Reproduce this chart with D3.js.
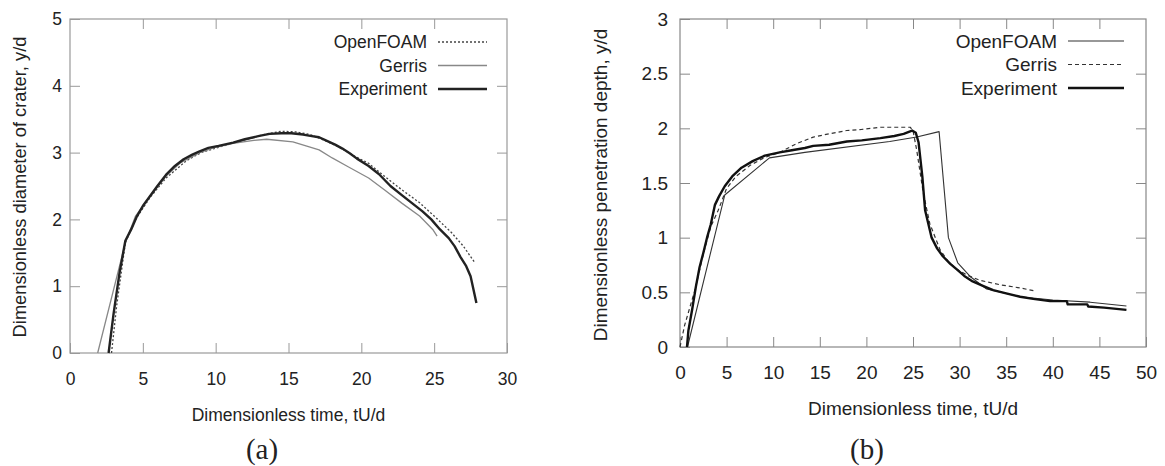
<!DOCTYPE html>
<html>
<head>
<meta charset="utf-8">
<script src="https://cdn.jsdelivr.net/npm/d3@7"></script>
<style>
  body { margin: 0; background: #fff; }
  text { font-family: "Liberation Sans", Arial, sans-serif; fill: #222; }
</style>
</head>
<body>
<div id="container"></div>
<script>
/* DATA : [time, value] */
// (a) crater diameter
const craterOpenFOAM = [[2.85,0],[3.2,0.7],[3.8,1.65],[4.5,2.0],[5.5,2.33],[6.6,2.62],[8,2.88],[9,3.0],[10.2,3.08],[11.5,3.16],[12.5,3.22],[13.5,3.28],[14.5,3.32],[15.5,3.31],[16.5,3.27],[17.5,3.18],[18.5,3.08],[19.5,2.95],[20.5,2.84],[21.5,2.66],[22.8,2.44],[24,2.25],[25.1,2.03],[26.2,1.8],[27,1.6],[27.8,1.35]];
const craterGerris = [[1.9,0],[3.8,1.65],[4.5,2.05],[5.5,2.35],[6.6,2.65],[7.6,2.85],[8.9,3.0],[10,3.08],[11.2,3.14],[12.5,3.18],[13.5,3.2],[15.3,3.16],[16.2,3.1],[17.1,3.04],[18,2.92],[19,2.8],[20.5,2.62],[21.6,2.44],[22.8,2.24],[24,2.05],[24.9,1.85],[25.2,1.75]];
const craterExperiment = [[2.65,0],[3.0,0.6],[3.4,1.2],[3.8,1.68],[4.2,1.85],[4.6,2.05],[5.0,2.2],[5.5,2.35],[6.0,2.5],[6.6,2.67],[7.2,2.8],[7.8,2.9],[8.4,2.97],[8.9,3.02],[9.5,3.07],[10.2,3.1],[11.2,3.15],[12,3.2],[13,3.25],[13.7,3.28],[14.5,3.29],[15.2,3.29],[16,3.27],[16.5,3.25],[17.1,3.23],[17.6,3.18],[18.2,3.12],[18.7,3.06],[19.2,2.99],[19.7,2.91],[20.5,2.8],[21.2,2.68],[22,2.5],[22.8,2.36],[23.5,2.24],[24.2,2.12],[24.8,2.0],[25.4,1.85],[26.0,1.72],[26.4,1.6],[26.8,1.44],[27.2,1.3],[27.5,1.15],[27.9,0.75]];

// (b) penetration depth
const depthOpenFOAM = [[0.8,0],[4.8,1.39],[9.6,1.73],[13.4,1.78],[22.5,1.88],[25.4,1.92],[27.8,1.97],[28.8,1.0],[29.8,0.77],[31.2,0.64],[32.9,0.53],[36.5,0.46],[40,0.43],[44,0.41],[47.9,0.375]];
const depthGerris = [[0,0],[0.5,0.2],[1.6,0.52],[2.5,0.85],[3.3,1.1],[4.1,1.25],[5,1.45],[6,1.56],[7.5,1.66],[9,1.73],[10.7,1.78],[12.5,1.86],[14.3,1.92],[16,1.95],[17.9,1.98],[19.5,1.99],[21.5,2.01],[24.7,2.01],[25,1.98],[25.4,1.8],[26.1,1.41],[26.8,1.13],[27.9,0.89],[28.8,0.78],[29.7,0.71],[31,0.65],[32.2,0.61],[34.3,0.57],[36.5,0.54],[38.2,0.51]];
const depthExperiment = [[0.75,0],[0.9,0.15],[1.3,0.34],[1.7,0.55],[2.1,0.73],[2.5,0.86],[2.9,1.0],[3.3,1.12],[3.75,1.3],[4.2,1.38],[4.8,1.47],[5.6,1.56],[6.6,1.64],[7.8,1.7],[9.1,1.75],[10.7,1.78],[12,1.8],[13.4,1.82],[14.3,1.84],[16,1.85],[17.9,1.88],[19.5,1.89],[21.5,1.91],[23,1.93],[24,1.95],[24.9,1.98],[25.3,1.96],[25.6,1.87],[26,1.56],[26.3,1.25],[27,1.0],[27.6,0.9],[28.2,0.83],[29,0.76],[29.7,0.71],[30.5,0.65],[31.4,0.6],[32.5,0.56],[33.6,0.52],[35,0.49],[36.5,0.46],[37.9,0.44],[39.7,0.42],[41.5,0.42],[41.6,0.39],[43.7,0.39],[43.8,0.37],[45.5,0.36],[47.9,0.34]];

const xTicksA = [0,5,10,15,20,25,30];
const yTicksA = [0,1,2,3,4,5];
const xTicksB = [0,5,10,15,20,25,30,35,40,45,50];
const yTicksB = [0,0.5,1,1.5,2,2.5,3];
const legendNames = ["OpenFOAM","Gerris","Experiment"];

/* CREATE SVG */
const svg = d3.select("#container").append("svg")
  .attr("width", 1165).attr("height", 466);

function panel(cfg) {
  const x = d3.scaleLinear().domain(cfg.xDomain).range([cfg.left, cfg.right]);
  const y = d3.scaleLinear().domain(cfg.yDomain).range([cfg.bottom, cfg.top]);
  const g = svg.append("g");
  const fmt = d3.format("");

  // axes with inward ticks on all four sides
  const axes = [
    [d3.axisBottom(x).tickValues(cfg.xTicks).tickFormat(fmt), `translate(0,${cfg.bottom})`, cfg.xPad],
    [d3.axisTop(x).tickValues(cfg.xTicks.slice(1,-1)).tickFormat(""), `translate(0,${cfg.top})`, 0],
    [d3.axisLeft(y).tickValues(cfg.yTicks).tickFormat(fmt), `translate(${cfg.left},0)`, cfg.yPad],
    [d3.axisRight(y).tickValues(cfg.yTicks.slice(1,-1)).tickFormat(""), `translate(${cfg.right},0)`, 0]
  ];
  axes.forEach(([ax, tr, pad]) => {
    const a = g.append("g").attr("transform", tr)
      .call(ax.tickSizeInner(-10).tickSizeOuter(0).tickPadding(pad));
    a.select(".domain").remove();
    a.selectAll("line").attr("stroke", cfg.frameColor);
    a.selectAll("text").style("font-size", cfg.fs + "px").attr("fill", "#222");
  });
  g.append("rect")
    .attr("x", cfg.left).attr("y", cfg.top)
    .attr("width", cfg.right - cfg.left).attr("height", cfg.bottom - cfg.top)
    .attr("fill", "none").attr("stroke", cfg.frameColor).attr("stroke-width", 1.2);

  const line = d3.line().x(d => x(d[0])).y(d => y(d[1]));
  cfg.series.forEach(s => {
    g.append("path").datum(s.data)
      .attr("d", line)
      .attr("fill", "none")
      .attr("stroke", s.color)
      .attr("stroke-width", s.width)
      .attr("stroke-dasharray", s.dash || null)
      .attr("stroke-linejoin", "round");
  });

  // legend
  cfg.series.forEach((s, i) => {
    const ly = cfg.legendY + i * cfg.legendGap;
    g.append("text").attr("x", cfg.legendTextX).attr("y", ly).attr("dy", "0.35em")
      .attr("text-anchor", "end").style("font-size", cfg.fs + "px").text(s.name);
    g.append("line").attr("x1", cfg.legendLine[0]).attr("x2", cfg.legendLine[1])
      .attr("y1", ly).attr("y2", ly)
      .attr("stroke", s.color).attr("stroke-width", s.width)
      .attr("stroke-dasharray", s.dash || null);
  });

  // titles
  g.append("text").attr("x", (cfg.left + cfg.right) / 2).attr("y", cfg.xTitleY)
    .attr("text-anchor", "middle").style("font-size", cfg.fs + "px").text(cfg.xTitle);
  g.append("text")
    .attr("transform", `translate(${cfg.yTitleX},${cfg.yTitleCY}) rotate(-90)`)
    .attr("text-anchor", "middle").attr("dy", "0.35em")
    .style("font-size", cfg.yTitleFs + "px").text(cfg.yTitle);
  g.append("text").attr("x", cfg.capX).attr("y", 459)
    .attr("text-anchor", "middle")
    .style("font-family", '"Liberation Serif", "Times New Roman", serif')
    .style("font-size", "29px").text(cfg.caption);
}

panel({
  left: 70, right: 507, top: 19, bottom: 353,
  xDomain: [0, 30], yDomain: [0, 5], xTicks: xTicksA, yTicks: yTicksA,
  fs: 17.5, xPad: 20, yPad: 8, frameColor: "#999",
  series: [
    { name: legendNames[0], data: craterOpenFOAM, color: "#444", width: 1.3, dash: "2,2" },
    { name: legendNames[1], data: craterGerris, color: "#888", width: 1.3 },
    { name: legendNames[2], data: craterExperiment, color: "#222", width: 2.4 }
  ],
  legendY: 42, legendGap: 23.5, legendTextX: 427, legendLine: [438, 487],
  xTitle: "Dimensionless time, tU/d", xTitleY: 421,
  yTitle: "Dimensionless diameter of crater, y/d", yTitleX: 20, yTitleCY: 187, yTitleFs: 18.3,
  caption: "(a)", capX: 262
});

panel({
  left: 680, right: 1146, top: 19, bottom: 347,
  xDomain: [0, 50], yDomain: [0, 3], xTicks: xTicksB, yTicks: yTicksB,
  fs: 19, xPad: 19, yPad: 12, frameColor: "#888",
  series: [
    { name: legendNames[0], data: depthOpenFOAM, color: "#333", width: 1.1 },
    { name: legendNames[1], data: depthGerris, color: "#333", width: 1.2, dash: "4,3" },
    { name: legendNames[2], data: depthExperiment, color: "#111", width: 2.4 }
  ],
  legendY: 41, legendGap: 23.5, legendTextX: 1057, legendLine: [1068, 1124],
  xTitle: "Dimensionless time, tU/d", xTitleY: 415,
  yTitle: "Dimensionless penetration depth, y/d", yTitleX: 600, yTitleCY: 185, yTitleFs: 19,
  caption: "(b)", capX: 867
});
</script>
</body>
</html>
